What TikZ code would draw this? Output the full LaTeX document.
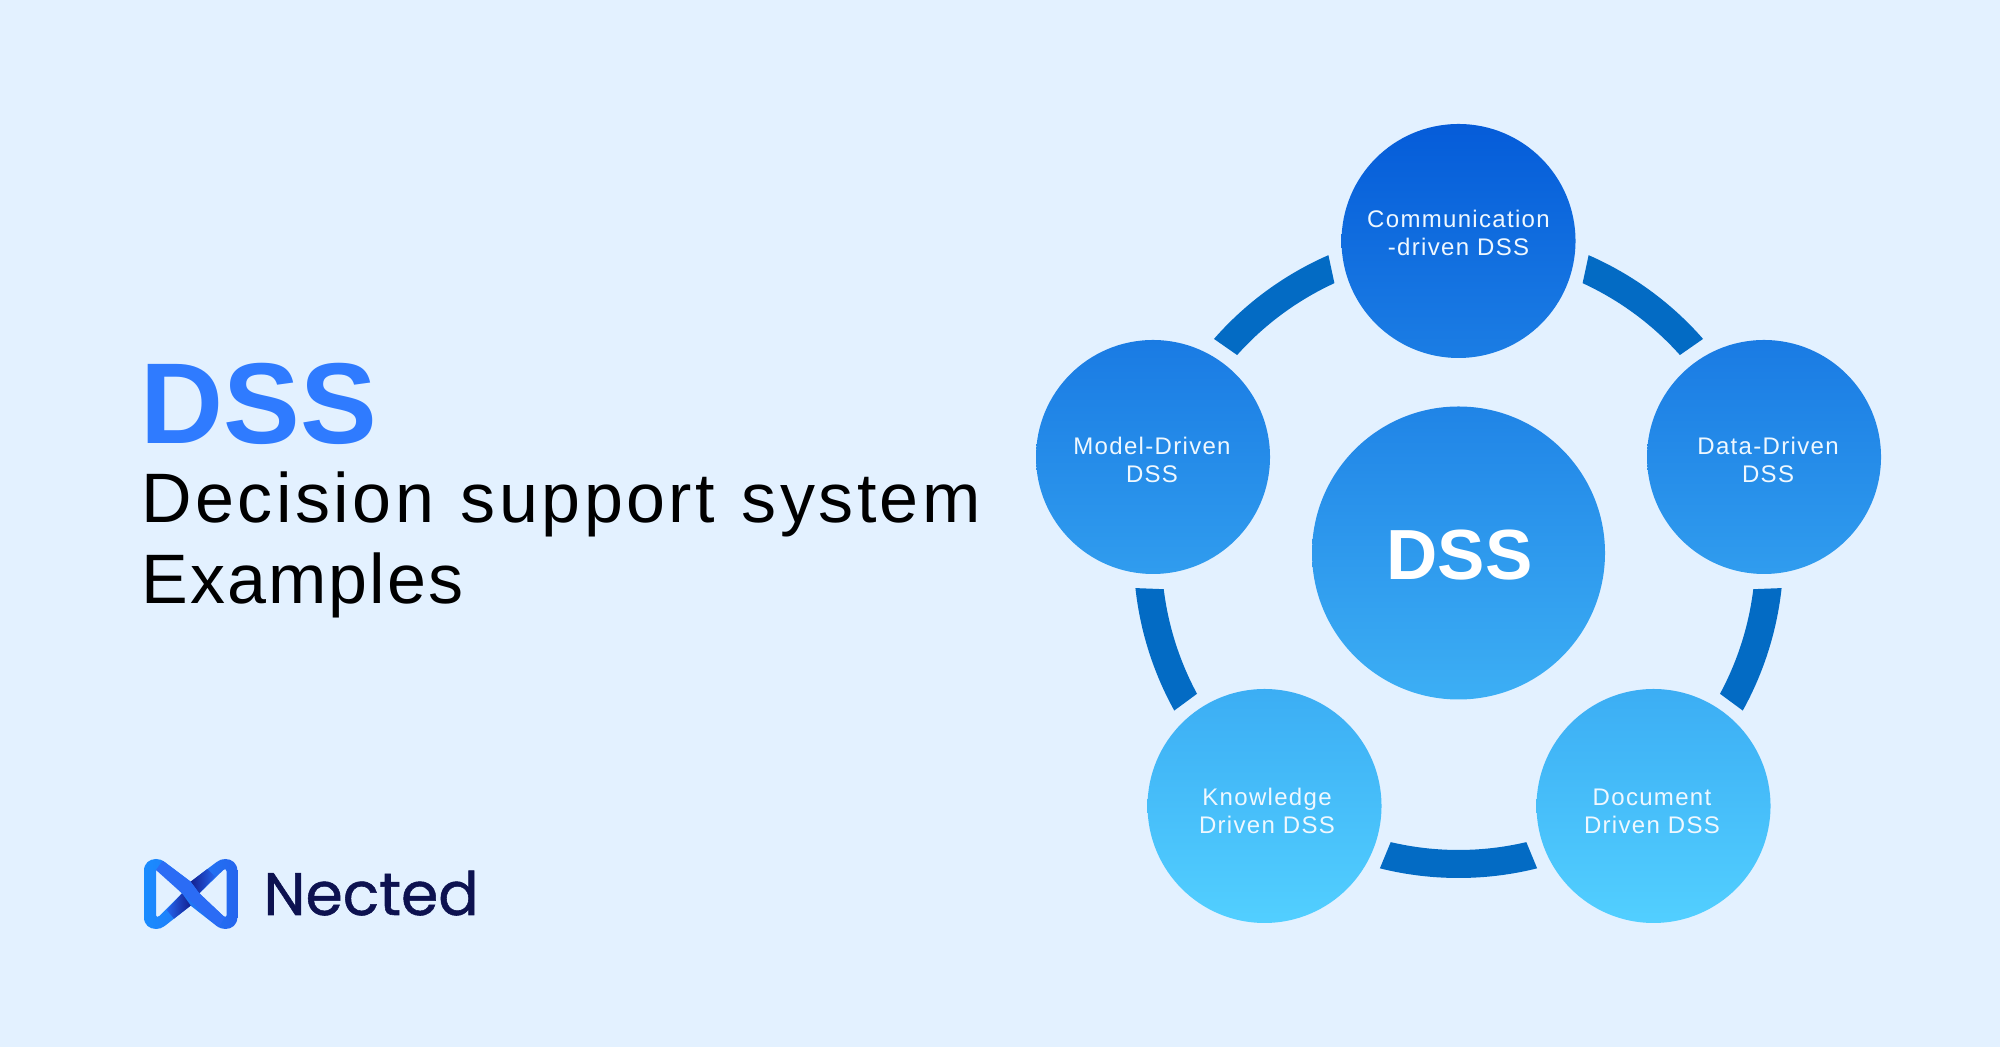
\documentclass[tikz,border=0pt]{standalone}
\usepackage{fontspec}
\setmainfont{Liberation Sans}
\newfontfamily\titlefont[LetterSpace=5,WordSpace=1.15]{Liberation Sans}
\newfontfamily\subfont[LetterSpace=3]{Liberation Sans}
\newfontfamily\labfont[LetterSpace=5.5]{Liberation Sans}
\newfontfamily\logofont[FakeBold=0.9]{Poppins}
\usetikzlibrary{calc}
\definecolor{pagebg}{HTML}{E3F1FF}
\definecolor{gradtop}{HTML}{055CD9}
\definecolor{gradbot}{HTML}{52CFFF}
\definecolor{ringblue}{HTML}{036BC4}
\definecolor{titleblue}{HTML}{2F7BFF}
\definecolor{labwhite}{HTML}{EFF8FF}
\definecolor{navy}{HTML}{0D1250}
\definecolor{logoa}{HTML}{1A8CFF}
\definecolor{logob}{HTML}{2565EE}
\definecolor{logoc}{HTML}{2B6CF5}
\definecolor{logod}{HTML}{141F8E}
\tikzset{
  disc/.style={circle,inner sep=0pt,outer sep=0pt,minimum size=117pt,shading=axis,shading angle=0},
  hubdisc/.style={disc,minimum size=146.5pt},
  ringarc/.style={fill=ringblue,draw=none},
  dsslabel/.style={align=center,text=labwhite,font=\fontsize{12}{14}\selectfont\labfont,inner sep=0pt},
  headline/.style={anchor=base west,inner sep=0pt,text=black},
}
\begin{document}
\begin{tikzpicture}[x=0.5pt,y=0.5pt]
\useasboundingbox (0,0) rectangle (2000,1047);
\fill[pagebg] (0,0) rectangle (2000,1047);
% ring: outer radius 325, inner radius 297; each end given by its outer and inner angle
\coordinate (ringc) at (1458.5,494);
\foreach \oa/\ob/\ia/\ib in {113.6/138.8/114.7/138.2, 186.2/209/187/208.3, 256/284/256.8/283.2, 66.4/41.2/65.3/41.8, 353.8/331/353/331.7}{
  \fill[ringarc] ($(ringc)+(\oa:325)$) arc[start angle=\oa,end angle=\ob,radius=325]
     -- ($(ringc)+(\ib:297)$) arc[start angle=\ib,end angle=\ia,radius=297] -- cycle;
}
% discs
\node[disc,top color=gradtop,bottom color=gradbot!29!gradtop] (comm) at (1458.5,806) {};
\node[disc,top color=gradbot!27!gradtop,bottom color=gradbot!56!gradtop] (model) at (1153,590) {};
\node[disc,top color=gradbot!27!gradtop,bottom color=gradbot!56!gradtop] (data) at (1764,590) {};
\node[hubdisc,top color=gradbot!35!gradtop,bottom color=gradbot!72!gradtop] (hub) at (1458.5,494) {};
\node[disc,top color=gradbot!71!gradtop,bottom color=gradbot] (know) at (1264.5,241) {};
\node[disc,top color=gradbot!71!gradtop,bottom color=gradbot] (doc) at (1653.5,241) {};
% disc labels
\node[dsslabel] (commt) at (1458.5,814) {Communication\\-driven DSS};
\node[dsslabel] (modelt) at (1152,587) {Model-Driven\\DSS};
\node[dsslabel] (datat) at (1768,587) {Data-Driven\\DSS};
\node[dsslabel] (knowt) at (1267,236) {Knowledge\\Driven DSS};
\node[dsslabel] (doct) at (1652,236) {Document\\Driven DSS};
\node[anchor=base,inner sep=0pt,text=white,font=\fontsize{35.5}{40}\selectfont\bfseries] (hubt) at (1459.5,467) {DSS};
% headings
\node[anchor=base west,inner sep=0pt,text=titleblue,font=\fontsize{57.5}{60}\selectfont\bfseries] (big) at (140,603) {DSS};
\node[headline,font=\fontsize{35}{40}\selectfont\titlefont] (line1) at (141,524) {Decision support system};
\node[headline,font=\fontsize{35}{40}\selectfont\subfont] (line2) at (141,443) {Examples};
% logo wordmark
\node[anchor=base west,inner sep=0pt,text=navy,font=\fontsize{30}{32}\selectfont\logofont] (word) at (263,132) {Nected};
% logo mark (coordinates in 3x crop pixels)
\begin{scope}[shift={(120,217)},x=0.16667pt,y=-0.16667pt]
\shade[left color=logoa,right color=logob,even odd rule]
  (72,122) .. controls (72,100) and (88,87) .. (108,87) .. controls (118,87) and (126,90) .. (134,96)
  -- (212,155) -- (290,96) .. controls (298,90) and (306,87) .. (316,87)
  .. controls (336,87) and (352,100) .. (352,122) -- (352,262)
  .. controls (352,284) and (336,297) .. (316,297) .. controls (306,297) and (298,294) .. (290,288)
  -- (212,227) -- (134,288) .. controls (126,294) and (118,297) .. (108,297)
  .. controls (88,297) and (72,284) .. (72,262) -- cycle
  (108,124) .. controls (108,116) and (114,116) .. (118,120) -- (186,190) -- (118,258)
  .. controls (114,262) and (108,262) .. (108,256) -- cycle
  (320,124) .. controls (320,116) and (314,116) .. (310,120) -- (238,190) -- (310,258)
  .. controls (314,262) and (320,262) .. (320,256) -- cycle;
\shade[left color=logod,right color=logob] (212,155) -- (262,117) -- (285,140) -- (238,190) -- cycle;
\shade[left color=logob,right color=logod] (212,227) -- (162,266) -- (140,240) -- (186,190) -- cycle;
\fill[logoc] (128,92) -- (108,120) -- (186,190) -- (296,292) -- (314,262) -- (238,190) -- (212,155) -- cycle;
\end{scope}
\end{tikzpicture}
\end{document}
